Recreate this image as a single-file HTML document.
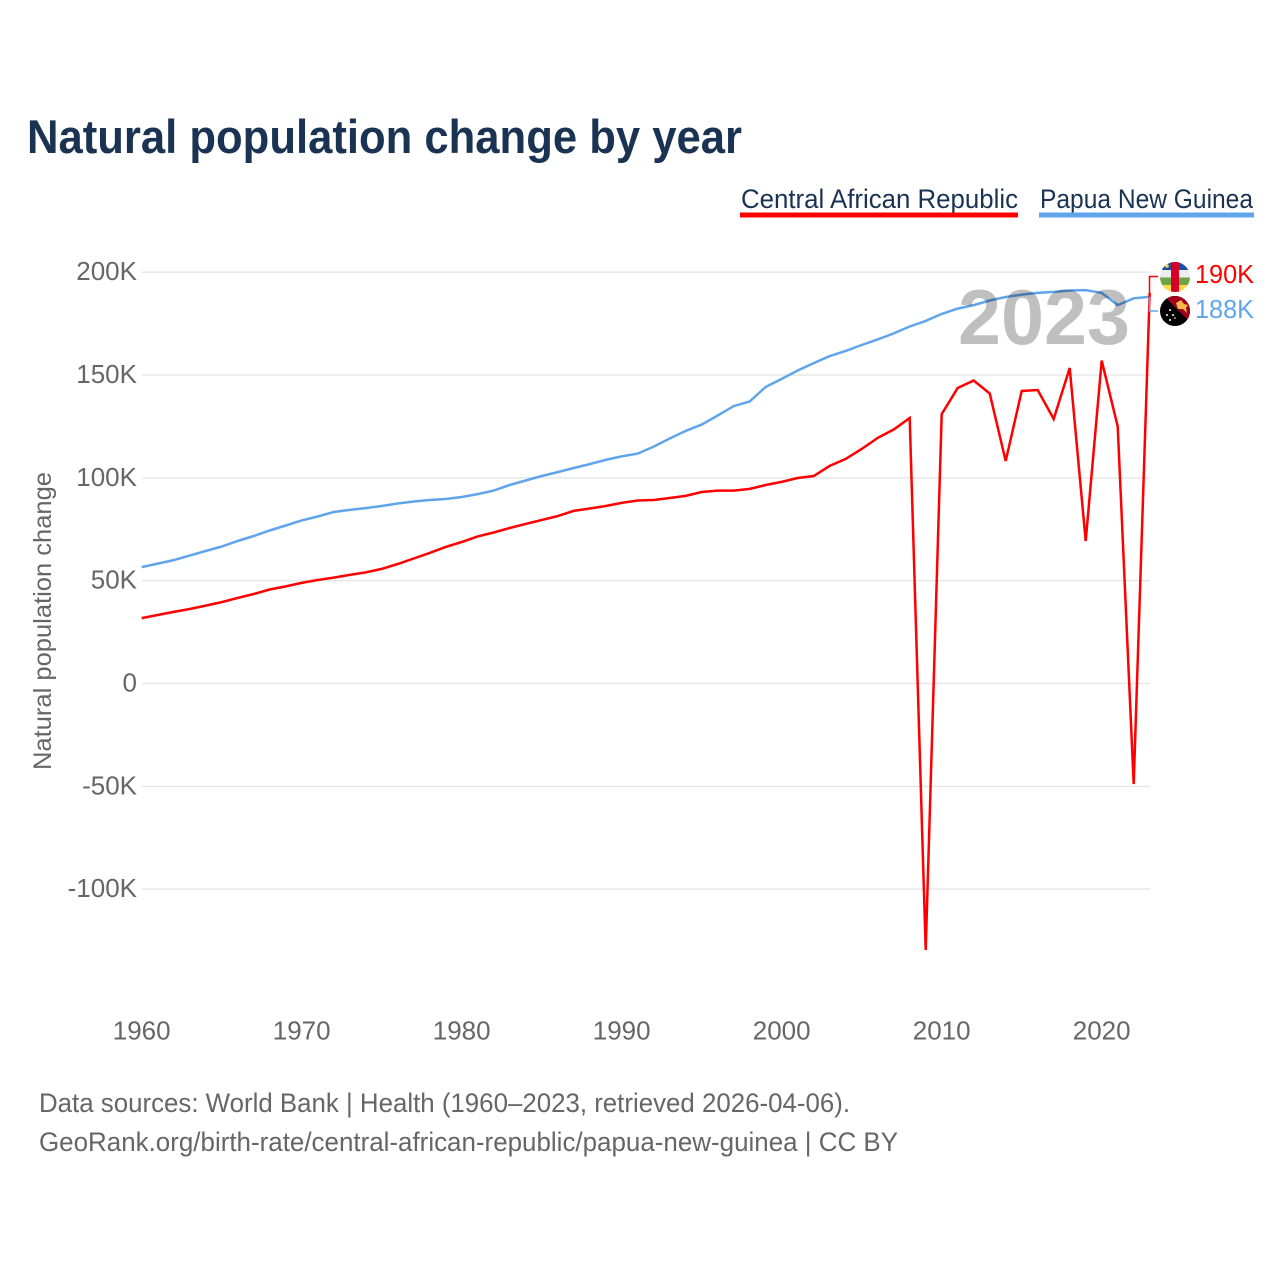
<!DOCTYPE html>
<html lang="en">
<head>
<meta charset="utf-8">
<title>Natural population change by year</title>
<style>
html,body{margin:0;padding:0;background:#fff;}
svg{display:block;font-family:"Liberation Sans",sans-serif;}
</style>
</head>
<body>
<svg id="chart" xmlns="http://www.w3.org/2000/svg" width="1280" height="1280" viewBox="0 0 1280 1280">
  <rect x="0" y="0" width="1280" height="1280" fill="#fff"/>
  <text x="27" y="153" font-size="47" font-weight="700" fill="#1a3353" textLength="715" lengthAdjust="spacingAndGlyphs">Natural population change by year</text>

  <g>
    <text x="741" y="208" font-size="27" fill="#1a3353" textLength="277" lengthAdjust="spacingAndGlyphs">Central African Republic</text>
    <rect x="740" y="212.5" width="278" height="5" fill="#ff0000"/>
  </g>
  <g>
    <text x="1040" y="208" font-size="27" fill="#1a3353" textLength="213" lengthAdjust="spacingAndGlyphs">Papua New Guinea</text>
    <rect x="1039" y="212.5" width="215" height="5" fill="#60a5ec"/>
  </g>

  <g id="grid"></g>
  <g id="yticks"></g>
  <g id="xticks"></g>
  <text transform="translate(51,770) rotate(-90)" x="0" y="0" font-size="25" fill="#666" textLength="298" lengthAdjust="spacingAndGlyphs">Natural population change</text>

  <g id="series"></g>
  <text id="year-watermark" x="1044" y="344" font-size="78" font-weight="700" text-anchor="middle" fill="#000" fill-opacity="0.25" textLength="172" lengthAdjust="spacingAndGlyphs">2023</text>
  <g id="connectors"></g>

  <defs>
    <clipPath id="clip-car"><circle cx="1175" cy="277" r="15"/></clipPath>
    <clipPath id="clip-png"><circle cx="1175" cy="311" r="15"/></clipPath>
  </defs>
  <g clip-path="url(#clip-car)">
    <rect x="1160" y="262" width="30" height="8" fill="#1b4fa0"/>
    <rect x="1160" y="270" width="30" height="7.5" fill="#eeeeee"/>
    <rect x="1160" y="277.5" width="30" height="7.5" fill="#6da544"/>
    <rect x="1160" y="285" width="30" height="7" fill="#ffda44"/>
    <rect x="1171" y="262" width="8" height="30" fill="#d80027"/>
    <circle cx="1167" cy="266" r="1.8" fill="#ffda44"/>
  </g>
  <g clip-path="url(#clip-png)">
    <rect x="1160" y="296" width="30" height="30" fill="#000"/>
    <polygon points="1164,296 1190,296 1190,322" fill="#a2001d"/>
    <polygon points="1176,303 1181,300 1184,304 1188,305 1186,308 1187,313 1183,309 1178,309" fill="#f2b84a"/>
    <circle cx="1170" cy="310" r="1" fill="#fff"/>
    <circle cx="1167" cy="315" r="1" fill="#fff"/>
    <circle cx="1173" cy="315" r="1" fill="#fff"/>
    <circle cx="1170" cy="320" r="1" fill="#fff"/>
    <circle cx="1175" cy="318" r="0.8" fill="#fff"/>
  </g>
  <text id="end-label-red" x="1195" y="283" font-size="25.5" fill="#ff0000" textLength="59" lengthAdjust="spacingAndGlyphs"></text>
  <text id="end-label-blue" x="1195" y="318" font-size="25.5" fill="#60a5ec" textLength="59" lengthAdjust="spacingAndGlyphs"></text>

  <g>
    <text x="39" y="1112" font-size="26.5" fill="#666" textLength="811" lengthAdjust="spacingAndGlyphs">Data sources: World Bank | Health (1960–2023, retrieved 2026-04-06).</text>
    <text x="39" y="1151" font-size="26.5" fill="#666" textLength="859" lengthAdjust="spacingAndGlyphs">GeoRank.org/birth-rate/central-african-republic/papua-new-guinea | CC BY</text>
  </g>
</svg>

<script>
const startYear = 1960;
const yTickValues = [200, 150, 100, 50, 0, -50, -100];
const xTickYears = [1960, 1970, 1980, 1990, 2000, 2010, 2020];
/* Natural population change, thousands, 1960-2023 */
const centralAfricanRepublic = [
  31.8,33.3,34.8,36.2,37.9,39.6,41.6,43.5,45.7,47.2,
  48.9,50.3,51.5,52.8,54.0,55.7,58.1,60.8,63.5,66.4,
  68.8,71.5,73.4,75.6,77.6,79.5,81.4,83.9,85.1,86.3,
  87.8,89.0,89.2,90.2,91.2,93.1,93.8,93.8,94.6,96.5,
  98.0,99.9,100.9,105.8,109.2,114.0,119.4,123.5,129.1,-129.6,
  131.0,143.7,147.3,141.0,108.2,142.2,142.7,128.6,153.4,69.3,
  157.0,125.0,-48.9,190.0
];
const papuaNewGuinea = [
  56.6,58.3,60.0,62.2,64.4,66.6,69.3,71.7,74.4,76.8,
  79.3,81.2,83.4,84.4,85.3,86.3,87.5,88.5,89.2,89.7,
  90.7,92.1,93.8,96.5,98.7,100.9,102.8,104.8,106.7,108.7,
  110.4,111.8,115.2,119.1,122.8,125.9,130.3,134.9,137.1,144.2,
  148.1,152.2,155.8,159.2,161.7,164.6,167.3,170.2,173.6,176.3,
  179.7,182.3,184.0,186.2,187.9,189.1,189.9,190.4,191.1,191.3,
  189.9,184.0,187.3,188.0
];

const NS = 'http://www.w3.org/2000/svg';
function xScale(year) { return 141.7 + (year - 1960) * 16; }
function yScale(v) { return 683.5 - v * 2.0567; }
function tickText(v) { return v + (v === 0 ? '' : 'K'); }
function linePoints(values) {
  return values.map(function (v, i) {
    return xScale(startYear + i).toFixed(1) + ',' + yScale(v).toFixed(1);
  }).join(' ');
}

const gridGroup = document.getElementById('grid');
const yGroup = document.getElementById('yticks');
yTickValues.forEach(function (v) {
  const rule = document.createElementNS(NS, 'line');
  
  
  rule.setAttribute('x1', 142);
  rule.setAttribute('x2', 1150);
  rule.setAttribute('y1', yScale(v));
  rule.setAttribute('y2', yScale(v));
  rule.setAttribute('stroke', '#e8e8e8');
  rule.setAttribute('stroke-width', 1.5);
  gridGroup.appendChild(rule);

  const label = document.createElementNS(NS, 'text');
  
  
  label.setAttribute('x', 137);
  label.setAttribute('y', yScale(v) + 8);
  label.setAttribute('text-anchor', 'end');
  label.setAttribute('font-size', 26);
  label.setAttribute('fill', '#666');
  label.textContent = tickText(v);
  yGroup.appendChild(label);
});

const xGroup = document.getElementById('xticks');
xTickYears.forEach(function (year) {
  const label = document.createElementNS(NS, 'text');
  
  
  label.setAttribute('x', xScale(year));
  label.setAttribute('y', 1039.5);
  label.setAttribute('text-anchor', 'middle');
  label.setAttribute('font-size', 26);
  label.setAttribute('fill', '#666');
  label.textContent = year;
  xGroup.appendChild(label);
});

const seriesGroup = document.getElementById('series');

const blueLine = document.createElementNS(NS, 'polyline');


blueLine.setAttribute('points', linePoints(papuaNewGuinea));
blueLine.setAttribute('fill', 'none');
blueLine.setAttribute('stroke', '#60a5ec');
blueLine.setAttribute('stroke-width', 2.5);
seriesGroup.appendChild(blueLine);

const redLine = document.createElementNS(NS, 'polyline');


redLine.setAttribute('points', linePoints(centralAfricanRepublic));
redLine.setAttribute('fill', 'none');
redLine.setAttribute('stroke', '#ff0000');
redLine.setAttribute('stroke-width', 2.5);
seriesGroup.appendChild(redLine);

const connectorGroup = document.getElementById('connectors');
const lastRed = centralAfricanRepublic[centralAfricanRepublic.length - 1];
const lastBlue = papuaNewGuinea[papuaNewGuinea.length - 1];

const redConnector = document.createElementNS(NS, 'polyline');


redConnector.setAttribute('points', '1149.5,' + yScale(lastRed) + ' 1149.5,276.5 1158,276.5');
redConnector.setAttribute('fill', 'none');
redConnector.setAttribute('stroke', '#ff0000');
redConnector.setAttribute('stroke-width', 1.5);
connectorGroup.appendChild(redConnector);

const blueConnector = document.createElementNS(NS, 'polyline');


blueConnector.setAttribute('points', '1149.5,' + yScale(lastBlue) + ' 1149.5,311 1158,311');
blueConnector.setAttribute('fill', 'none');
blueConnector.setAttribute('stroke', '#60a5ec');
blueConnector.setAttribute('stroke-width', 1.5);
connectorGroup.appendChild(blueConnector);

document.getElementById('end-label-red').textContent = Math.round(lastRed) + 'K';
document.getElementById('end-label-blue').textContent = Math.round(lastBlue) + 'K';
document.getElementById('year-watermark').textContent = startYear + centralAfricanRepublic.length - 1;
</script>
</body>
</html>
